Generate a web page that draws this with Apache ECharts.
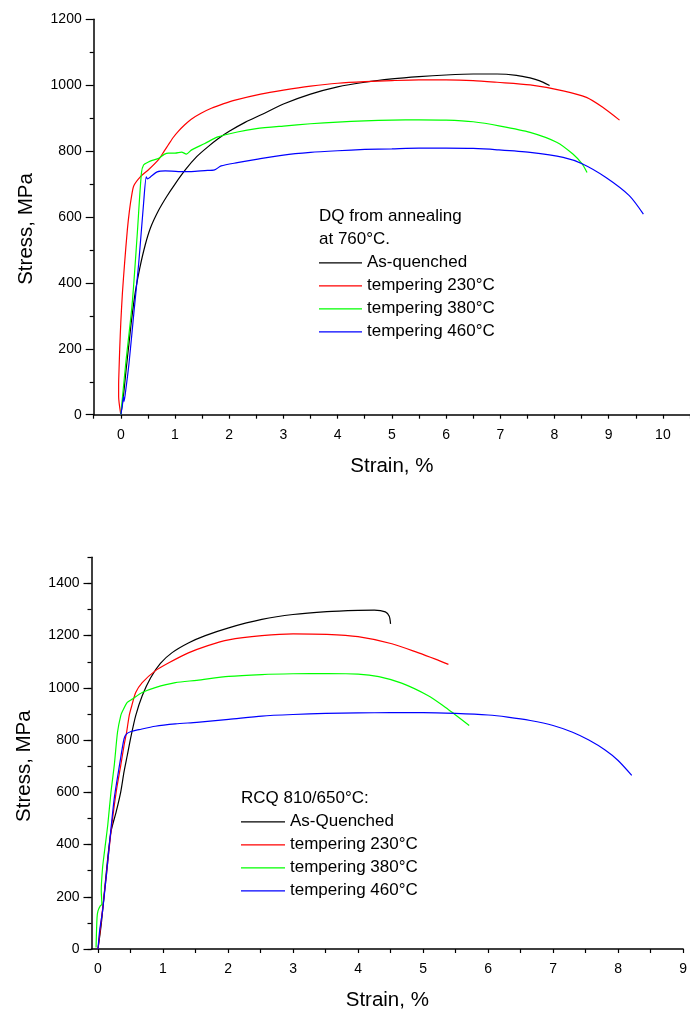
<!DOCTYPE html>
<html>
<head>
<meta charset="utf-8">
<script src="https://cdn.jsdelivr.net/npm/echarts@6/dist/echarts.min.js"></script>
<style>
html,body{margin:0;padding:0;background:#fff;}
#chart{width:690px;height:1012px;}
</style>
</head>
<body>
<div id="chart"></div>
<script>
// ---------- Data: top chart (DQ from annealing at 760°C) ----------
var topTitle = 'DQ from annealing\nat 760°C.';
var topNames = ['As-quenched', 'tempering 230°C', 'tempering 380°C', 'tempering 460°C'];
var topAsQuenched = [[0,0],[0.05,60],[0.1,140],[0.15,215],[0.2,290],[0.27,375],[0.35,445],[0.45,515],[0.55,568],[0.7,621],[0.85,663],[1.0,700],[1.2,745],[1.4,783],[1.6,812],[1.8,838],[2.0,860],[2.3,888],[2.6,911],[3.0,943],[3.5,973],[4.0,995],[4.5,1009],[5.0,1019],[5.5,1026],[6.0,1031],[6.5,1034],[6.94,1034],[7.3,1030],[7.55,1022],[7.73,1013],[7.91,999]];
var top230 = [[0,0],[-0.04,55],[-0.04,90],[-0.03,150],[-0.02,200],[0.0,280],[0.03,370],[0.07,460],[0.12,560],[0.16,620],[0.2,665],[0.24,695],[0.36,722],[0.52,745],[0.7,775],[0.8,800],[0.88,820],[0.97,842],[1.06,860],[1.18,880],[1.3,897],[1.48,915],[1.67,930],[1.9,944],[2.09,954],[2.58,973],[3.0,985],[3.5,997],[4.0,1006],[4.5,1011],[5.0,1014],[5.5,1016],[6.0,1016],[6.5,1014],[6.94,1009],[7.55,1001],[8.16,983],[8.59,963],[8.89,933],[9.2,894]];
var top380 = [[0,0],[0.09,154],[0.21,337],[0.3,540],[0.38,733],[0.42,758],[0.5,766],[0.58,772],[0.7,778],[0.8,790],[0.88,794],[1.0,794],[1.12,797],[1.21,791],[1.3,803],[1.55,823],[1.79,843],[2.15,858],[2.5,868],[3.0,876],[3.5,883],[4.0,888],[4.5,892],[5.0,894],[5.5,895],[6.0,894],[6.5,889],[7.0,876],[7.55,857],[8.04,827],[8.34,791],[8.51,761],[8.6,735]];
var top460 = [[0,0],[0.03,30],[0.05,55],[0.06,40],[0.08,60],[0.15,154],[0.24,307],[0.33,459],[0.42,641],[0.47,722],[0.49,716],[0.55,722],[0.67,737],[0.82,740],[1.06,738],[1.3,738],[1.55,741],[1.73,743],[1.85,755],[2.15,765],[2.5,775],[3.0,788],[3.5,796],[4.0,801],[4.5,805],[5.0,807],[5.5,809],[6.0,809],[6.5,808],[6.94,804],[7.55,796],[8.16,781],[8.52,761],[8.95,720],[9.38,665],[9.64,609]];
var topXTicks = [-0.5,0,0.5,1,1.5,2,2.5,3,3.5,4,4.5,5,5.5,6,6.5,7,7.5,8,8.5,9,9.5,10,10.5];
var topXLabels = [0,1,2,3,4,5,6,7,8,9,10];

// ---------- Data: bottom chart (RCQ 810/650°C) ----------
var botTitle = 'RCQ 810/650°C:';
var botNames = ['As-Quenched', 'tempering 230°C', 'tempering 380°C', 'tempering 460°C'];
var botAsQuenched = [[0,0],[0.05,95],[0.1,222],[0.15,349],[0.2,450],[0.28,526],[0.35,602],[0.4,678],[0.45,741],[0.51,817],[0.58,894],[0.68,970],[0.81,1039],[0.96,1094],[1.14,1135],[1.39,1172],[1.65,1200],[2.01,1230],[2.52,1262],[3.0,1281],[3.52,1292],[4.0,1297],[4.25,1298],[4.42,1291],[4.48,1274],[4.5,1245]];
var bot230 = [[0,0],[0.05,108],[0.13,285],[0.2,450],[0.28,602],[0.35,703],[0.4,779],[0.44,830],[0.48,894],[0.52,932],[0.58,982],[0.68,1020],[0.88,1065],[1.09,1096],[1.39,1134],[1.69,1162],[2.01,1184],[2.52,1200],[3.0,1207],[3.52,1205],[4.0,1196],[4.52,1169],[4.92,1135],[5.19,1110],[5.39,1090]];
var bot380 = [[-0.03,6],[-0.015,120],[0,146],[0.035,165],[0.06,171],[0.05,222],[0.07,310],[0.1,374],[0.15,475],[0.2,602],[0.25,703],[0.3,830],[0.35,894],[0.38,912],[0.45,944],[0.53,957],[0.68,982],[0.88,1001],[1.19,1020],[1.52,1029],[2.01,1044],[2.52,1051],[3.0,1054],[3.52,1055],[4.0,1053],[4.32,1043],[4.67,1018],[5.08,970],[5.32,930],[5.48,900],[5.71,856]];
var bot460 = [[0,0],[0.025,70],[0.07,146],[0.13,285],[0.18,412],[0.25,577],[0.33,703],[0.4,805],[0.44,824],[0.51,833],[0.63,840],[0.88,853],[1.19,862],[1.52,868],[2.01,879],[2.52,892],[3.0,898],[3.5,902],[4.0,904],[4.5,905],[5.0,905],[5.5,902],[6.0,896],[6.3,888],[6.65,875],[7.0,856],[7.3,830],[7.55,800],[7.8,762],[8.0,722],[8.21,665]];
var botXTicks = [0,0.5,1,1.5,2,2.5,3,3.5,4,4.5,5,5.5,6,6.5,7,7.5,8,8.5,9];
var botXLabels = [0,1,2,3,4,5,6,7,8,9];
var botYLabels = [0,200,400,600,800,1000,1200,1400];

var colors = ['#000000', '#ff0000', '#00ff00', '#0000ff'];
var FONT = '"Liberation Sans", Arial, Helvetica, sans-serif';

function plain(v) { return String(v); }

function xAxisCfg(gridIndex, min, max, ticks, labels) {
  return {
    type: 'value', gridIndex: gridIndex, min: min, max: max,
    name: 'Strain, %', nameLocation: 'middle', nameGap: 41,
    nameTextStyle: {fontSize: 20.5, color: '#000', fontFamily: FONT},
    axisLine: {onZero: false, lineStyle: {color: '#000', width: 1.5}},
    axisTick: {show: true, inside: false, length: 4, customValues: ticks, lineStyle: {color: '#000', width: 1.2}},
    axisLabel: {customValues: labels, formatter: plain, fontSize: 14, color: '#000', margin: 13, fontFamily: FONT},
    splitLine: {show: false}
  };
}

function makeSeries(name, data, color, xi, yi) {
  return {
    type: 'line', name: name, data: data, xAxisIndex: xi, yAxisIndex: yi,
    symbol: 'none', showSymbol: false, smooth: 0.25,
    lineStyle: {color: color, width: 1.2}, itemStyle: {color: color},
    emphasis: {disabled: true}, animation: false, clip: true
  };
}

function legendCfg(names, left, top, w) {
  return {
    data: names, orient: 'vertical', left: left, top: top, padding: 0,
    icon: 'rect', itemWidth: w, itemHeight: 1.3, itemGap: 0, selectedMode: false,
    textStyle: {fontSize: 17, color: '#000', fontFamily: FONT, lineHeight: 23}
  };
}

var chart = echarts.init(document.getElementById('chart'), null, {renderer: 'canvas'});
var option = {
  backgroundColor: '#ffffff',
  animation: false,
  textStyle: {fontFamily: FONT},
  title: [
    {text: topTitle, left: 319, top: 205, padding: 0,
     textStyle: {fontSize: 17, fontWeight: 'normal', color: '#000', lineHeight: 23, fontFamily: FONT}},
    {text: botTitle, left: 241, top: 787, padding: 0,
     textStyle: {fontSize: 17, fontWeight: 'normal', color: '#000', lineHeight: 23, fontFamily: FONT}}
  ],
  legend: [
    legendCfg(topNames, 319, 251.3, 43),
    legendCfg(botNames, 241, 810.3, 44)
  ],
  grid: [
    {left: 93.7, top: 19.3, right: -4.8, bottom: 597.3, containLabel: false},
    {left: 91.5, top: 557.3, right: -2.1, bottom: 60.3, containLabel: false}
  ],
  xAxis: [
    xAxisCfg(0, -0.5, 10.5, topXTicks, topXLabels),
    xAxisCfg(1, -0.1, 9, botXTicks, botXLabels)
  ],
  yAxis: [
    {type: 'value', gridIndex: 0, min: 0, max: 1200, interval: 200,
     name: 'Stress, MPa', nameLocation: 'middle', nameGap: 57,
     nameTextStyle: {fontSize: 20.5, color: '#000', fontFamily: FONT, padding: [0, 24, 0, 0]},
     axisLine: {show: true, onZero: false, lineStyle: {color: '#000', width: 1.5}},
     axisTick: {show: true, length: 8, lineStyle: {color: '#000', width: 1.2}},
     minorTick: {show: true, splitNumber: 2, length: 4, lineStyle: {color: '#000', width: 1.2}},
     axisLabel: {formatter: plain, fontSize: 14, color: '#000', margin: 12, fontFamily: FONT},
     splitLine: {show: false}, minorSplitLine: {show: false}},
    {type: 'value', gridIndex: 1, min: 0, max: 1500, interval: 100,
     name: 'Stress, MPa', nameLocation: 'middle', nameGap: 57,
     nameTextStyle: {fontSize: 20.5, color: '#000', fontFamily: FONT, padding: [0, 26, 0, 0]},
     axisLine: {show: true, onZero: false, lineStyle: {color: '#000', width: 1.5}},
     axisTick: {show: true, length: 4, lineStyle: {color: '#000', width: 1.2}},
     axisLabel: {customValues: botYLabels, formatter: plain, fontSize: 14, color: '#000', margin: 12, fontFamily: FONT},
     splitLine: {show: false}},
    {type: 'value', gridIndex: 1, min: 0, max: 1500, position: 'left',
     axisLine: {show: false, onZero: false},
     axisTick: {show: true, length: 8, customValues: botYLabels, lineStyle: {color: '#000', width: 1.2}},
     axisLabel: {show: false}, splitLine: {show: false}}
  ],
  series: [
    makeSeries(topNames[0], topAsQuenched, colors[0], 0, 0),
    makeSeries(topNames[1], top230, colors[1], 0, 0),
    makeSeries(topNames[2], top380, colors[2], 0, 0),
    makeSeries(topNames[3], top460, colors[3], 0, 0),
    makeSeries(botNames[0], botAsQuenched, colors[0], 1, 1),
    makeSeries(botNames[1], bot230, colors[1], 1, 1),
    makeSeries(botNames[2], bot380, colors[2], 1, 1),
    makeSeries(botNames[3], bot460, colors[3], 1, 1)
  ]
};
chart.setOption(option);
</script>
</body>
</html>
